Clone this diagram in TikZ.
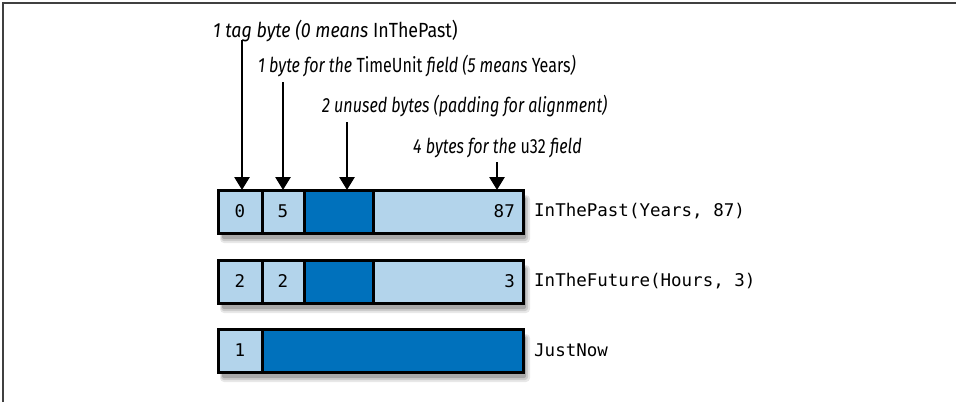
\documentclass[tikz,border=0pt]{standalone}
\usepackage{fontspec}
\newfontfamily\labfont[FakeStretch=0.785]{Fira Sans}
\newfontfamily\labfontw[FakeStretch=0.87]{Fira Sans}
\newfontfamily\codefont{DejaVu Sans Mono}
\usetikzlibrary{arrows.meta}
\definecolor{lightcell}{HTML}{B3D4EB}
\definecolor{darkcell}{HTML}{0071BC}
\tikzset{
  rowbox/.style={draw=black, line width=3pt, anchor=north west, outer sep=0pt,
    minimum width=305pt, minimum height=43pt, inner sep=0pt},
  shA/.style={fill=black!9, rounded corners=4pt},
  shB/.style={fill=black!20, rounded corners=3pt},
  shC/.style={fill=black!34, rounded corners=2pt},
  cellbox/.style={draw=black, line width=3pt, anchor=north west, outer sep=0pt,
    minimum height=43pt, inner sep=0pt, font=\codefont\fontsize{17.5}{20}\selectfont},
  lightc/.style={cellbox, fill=lightcell},
  darkc/.style={cellbox, fill=darkcell},
  numtext/.style={font=\codefont\fontsize{17.5}{20}\selectfont, inner sep=0pt, anchor=east},
  rowlabel/.style={font=\codefont\fontsize{17.5}{20}\selectfont, inner sep=0pt, anchor=west},
  annot/.style={font=\labfont\fontsize{20.5}{24}\selectfont, inner sep=0pt, anchor=base west},
  pointer/.style={line width=2.8pt, -{Triangle[width=15pt,length=13pt]}},
}
\begin{document}
\begin{tikzpicture}[x=1pt,y=-1pt]
\useasboundingbox (0,0) rectangle (956,402);
\draw[line width=2pt, black!75] (3,402) -- (3,2.5) -- (956,2.5);

% annotations
\node[annot, font=\labfontw\fontsize{20.5}{24}\selectfont] (l1) at (213,37) {\textit{1 tag byte (0 means} InThePast)};
\node[annot] (l2) at (258,72) {\textit{1 byte for the} TimeUnit \textit{field (5 means} Years\textit{)}};
\node[annot] (l3) at (322,112) {\textit{2 unused bytes (padding for alignment)}};
\node[annot] (l4) at (413,153) {\textit{4 bytes for the} u32 \textit{field}};

% soft shadows under the rows
\foreach \t in {190,260,329}{
  \fill[shA] (220,\t+5) rectangle (530,\t+53);
  \fill[shB] (221,\t+6) rectangle (528,\t+51);
  \fill[shC] (222,\t+7) rectangle (526,\t+49);
}

% row 1
\node[rowbox] (r1) at (218,190) {};
\node[lightc, minimum width=44pt] (r1a) at (218,190) {0};
\node[lightc, minimum width=42pt] (r1b) at (262,190) {5};
\node[darkc, minimum width=69pt] (r1c) at (304,190) {};
\node[lightc, minimum width=150pt] (r1d) at (373,190) {};
\node[numtext] (r1n) at ([xshift=-8pt]r1d.east) {87};
\node[rowlabel] (r1l) at (534,211.5) {InThePast(Years, 87)};

% row 2
\node[rowbox] (r2) at (218,260) {};
\node[lightc, minimum width=44pt] (r2a) at (218,260) {2};
\node[lightc, minimum width=42pt] (r2b) at (262,260) {2};
\node[darkc, minimum width=69pt] (r2c) at (304,260) {};
\node[lightc, minimum width=150pt] (r2d) at (373,260) {};
\node[numtext] (r2n) at ([xshift=-8pt]r2d.east) {3};
\node[rowlabel] (r2l) at (534,281.5) {InTheFuture(Hours, 3)};

% row 3
\node[rowbox] (r3) at (218,329) {};
\node[lightc, minimum width=44pt] (r3a) at (218,329) {1};
\node[darkc, minimum width=261pt] (r3b) at (262,329) {};
\node[rowlabel] (r3l) at (534,350.5) {JustNow};

% arrows
\coordinate (s1) at (242,40);
\coordinate (s2) at (283,82);
\coordinate (s3) at (347,122);
\coordinate (s4) at (497,162);
\draw[pointer] (s1) -- (s1 |- r1a.north);
\draw[pointer] (s2) -- (s2 |- r1b.north);
\draw[pointer] (s3) -- (s3 |- r1c.north);
\draw[pointer] (s4) -- (s4 |- r1d.north);
\end{tikzpicture}
\end{document}
